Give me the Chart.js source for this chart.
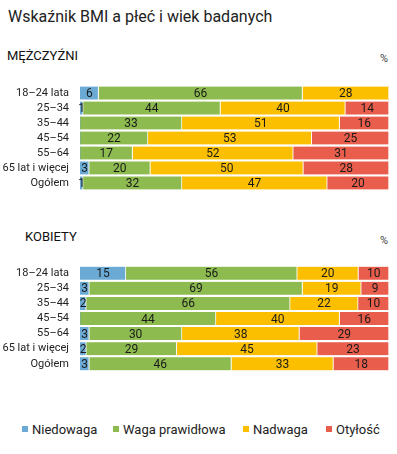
<!DOCTYPE html>
<html>
<head>
<meta charset="utf-8">
<script src="https://cdn.jsdelivr.net/npm/chart.js@4/dist/chart.umd.min.js"></script>
<style>
  body { margin: 0; width: 397px; height: 454px; background: #fff; font-family: Roboto, sans-serif; color: #222; position: relative; overflow: hidden; }
  .abs { position: absolute; white-space: nowrap; }
  #title { left: 8px; top: 7px; font-size: 16px; line-height: 20px; }
  .section { font-size: 13px; font-weight: 400; line-height: 14px; color: #111; }
  .pct { font-size: 11px; color: #444; line-height: 12px; }
  .legend-item { font-size: 13px; line-height: 16px; top: 422px; }
  .legend-item span.box { display: inline-block; width: 6px; height: 6px; margin-right: 4px; vertical-align: 2px; }
</style>
</head>
<body>
<div id="title" class="abs">Wskaźnik BMI a płeć i wiek badanych</div>
<div class="abs section" style="left:7px; top:49px;">MĘŻCZYŹNI</div>
<div class="abs pct" style="left:380px; top:53px;">%</div>
<div class="abs" style="left:0; top:68px;"><canvas id="men" width="397" height="140"></canvas></div>
<div class="abs section" style="left:25px; top:230px;">KOBIETY</div>
<div class="abs pct" style="left:380px; top:235px;">%</div>
<div class="abs" style="left:0; top:248px;"><canvas id="women" width="397" height="141"></canvas></div>
<div id="legend"></div>
<script>
const ageGroups = ['18–24 lata', '25–34', '35–44', '45–54', '55–64', '65 lat i więcej', 'Ogółem'];
const seriesNames = ['Niedowaga', 'Waga prawidłowa', 'Nadwaga', 'Otyłość'];
const colors = ['#6aaad4', '#8dbb50', '#fcbf00', '#e85d4b'];

// mężczyźni
const menUnder = [6, 1, 0, 0, 0, 3, 1];
const menNormal = [66, 44, 33, 22, 17, 20, 32];
const menOver = [28, 40, 51, 53, 52, 50, 47];
const menObese = [0, 14, 16, 25, 31, 28, 20];

// kobiety
const womenUnder = [15, 3, 2, 0, 3, 2, 3];
const womenNormal = [56, 69, 66, 44, 30, 29, 46];
const womenOver = [20, 19, 22, 40, 38, 45, 33];
const womenObese = [10, 9, 10, 16, 29, 23, 18];

const legendX = [22, 113, 243, 326];

const valueLabels = {
  id: 'valueLabels',
  afterDatasetsDraw(chart) {
    const ctx = chart.ctx;
    ctx.save();
    ctx.font = '12px Roboto, sans-serif';
    ctx.fillStyle = '#1a1a1a';
    ctx.textAlign = 'center';
    ctx.textBaseline = 'middle';
    chart.data.datasets.forEach((ds, i) => {
      chart.getDatasetMeta(i).data.forEach((bar, j) => {
        const v = ds.rawValues[j];
        if (!v) return;
        ctx.fillText(v, (bar.x + bar.base) / 2, bar.y + 1);
      });
    });
    ctx.restore();
  }
};

function makeChart(id, series) {
  const sums = ageGroups.map((_, j) => series.reduce((s, arr) => s + arr[j], 0));
  const datasets = series.map((arr, i) => ({
    label: seriesNames[i],
    data: arr.map((v, j) => v / sums[j] * 100),
    rawValues: arr,
    backgroundColor: colors[i],
    borderColor: '#fff',
    borderWidth: { left: 0, right: 1, top: 0, bottom: 0 },
    borderSkipped: 'start',
    barThickness: 13
  }));
  new Chart(document.getElementById(id), {
    type: 'bar',
    data: { labels: ageGroups, datasets: datasets },
    options: {
      indexAxis: 'y',
      responsive: false,
      animation: false,
      layout: { padding: { left: 0, right: 8, top: 0, bottom: 0 } },
      scales: {
        x: { stacked: true, min: 0, max: 100, display: false },
        y: {
          stacked: true,
          grid: { display: false, drawTicks: false },
          border: { display: false },
          ticks: { color: '#222', font: { family: 'Roboto', size: 11 }, padding: 11 },
          afterFit: s => { s.width = 80; }
        }
      },
      plugins: { legend: { display: false }, tooltip: { enabled: false } }
    },
    plugins: [valueLabels]
  });
}

makeChart('men', [menUnder, menNormal, menOver, menObese]);
makeChart('women', [womenUnder, womenNormal, womenOver, womenObese]);

const legend = document.getElementById('legend');
seriesNames.forEach((name, i) => {
  const item = document.createElement('div');
  item.className = 'abs legend-item';
  item.style.left = legendX[i] + 'px';
  item.innerHTML = '<span class="box" style="background:' + colors[i] + '"></span>' + name;
  legend.appendChild(item);
});
</script>
</body>
</html>
